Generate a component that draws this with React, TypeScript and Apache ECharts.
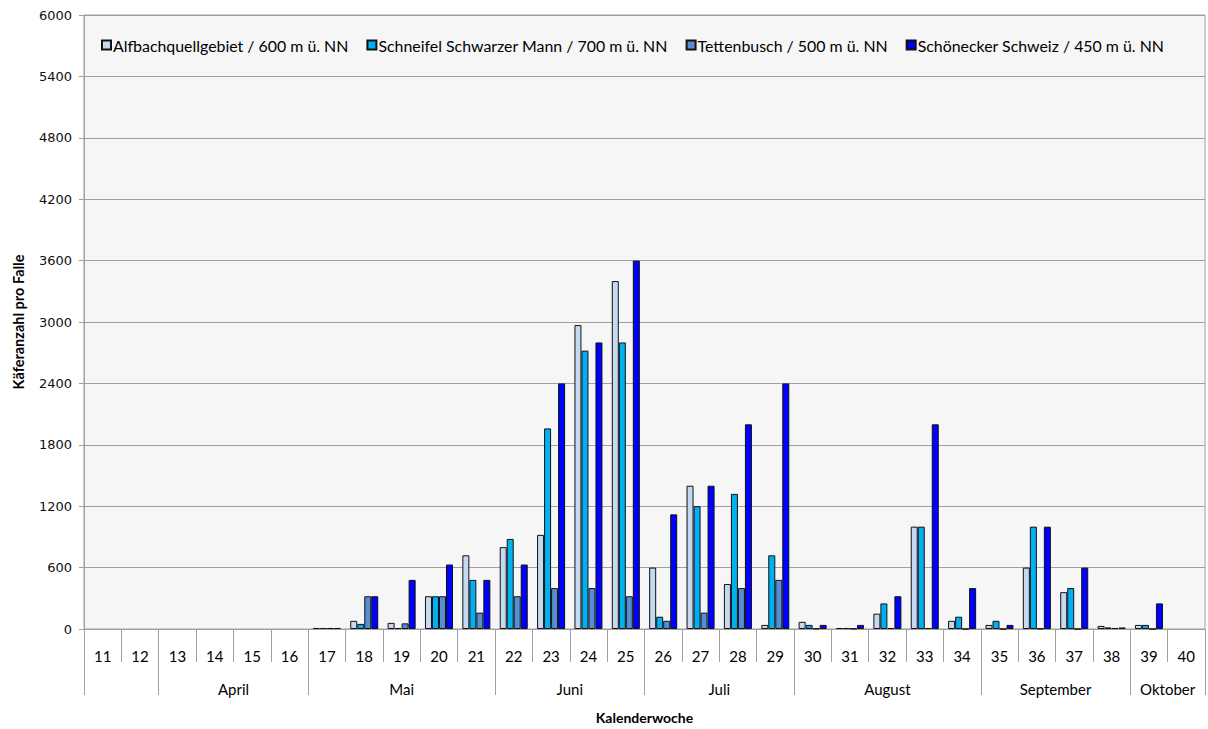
import React, { useEffect, useRef } from "react";
import * as echarts from "echarts";

const weeks = ["11","12","13","14","15","16","17","18","19","20","21","22","23","24","25","26","27","28","29","30","31","32","33","34","35","36","37","38","39","40"];

const alfbach = [null,null,null,null,null,null,10,80,60,320,720,800,920,2970,3400,600,1400,440,40,70,10,150,1000,80,40,600,360,30,40,null];
const schneifel = [null,null,null,null,null,null,10,50,10,320,480,880,1960,2720,2800,120,1200,1320,720,40,10,250,1000,120,80,1000,400,15,40,null];
const tettenbusch = [null,null,null,null,null,null,10,320,55,320,160,320,400,400,320,80,160,400,480,5,5,10,10,0,0,5,0,10,0,null];
const schoenecker = [null,null,null,null,null,null,10,320,480,630,480,630,2400,2800,3600,1120,1400,2000,2400,40,40,320,2000,400,40,1000,600,15,250,null];

const seriesNames = [
  "Alfbachquellgebiet / 600 m ü. NN",
  "Schneifel Schwarzer Mann / 700 m ü. NN",
  "Tettenbusch / 500 m ü. NN",
  "Schönecker Schweiz / 450 m ü. NN",
];
const seriesColors = ["#C6D9F1", "#00B0F0", "#558ED5", "#0000FF"];

const monthNames = ["April", "Mai", "Juni", "Juli", "August", "September", "Oktober"];
const monthCenters = [4, 8.5, 13, 17, 21.5, 26, 29];
const monthBounds = [0, 2, 6, 11, 15, 19, 24, 28, 30];

const yTicks = { min: 0, max: 6000, interval: 600 };

const FONT = "Lato, 'Open Sans', sans-serif";
const GRAY = "#A0A0A0";

export default function App() {
  const ref = useRef<HTMLDivElement>(null);
  useEffect(() => {
    if (!ref.current) return;
    const chart = echarts.init(ref.current, null, { renderer: "svg" });
    const datasets = [alfbach, schneifel, tettenbusch, schoenecker];
    chart.setOption({
      animation: false,
      backgroundColor: "#FFFFFF",
      textStyle: { fontFamily: FONT },
      grid: {
        left: 84,
        right: 3,
        top: 15,
        bottom: 92,
        show: true,
        backgroundColor: "#F6F6F6",
        borderColor: GRAY,
        borderWidth: 1,
      },
      legend: {
        left: 96,
        top: 32,
        itemWidth: 9,
        itemHeight: 9,
        itemGap: 18,
        icon: "rect",
        textStyle: { fontFamily: FONT, fontSize: 15.9, color: "#000", padding: [0, 0, 0, -3] },
        data: seriesNames,
      },
      xAxis: [
        {
          type: "category",
          data: weeks,
          position: "bottom",
          axisLine: { show: true, lineStyle: { color: GRAY, width: 1 } },
          axisTick: { show: true, interval: 0, length: 33, lineStyle: { color: GRAY, width: 1 } },
          axisLabel: { interval: 0, margin: 19, fontFamily: FONT, fontSize: 15, color: "#000" },
          splitLine: { show: false },
        },
        {
          type: "value",
          min: 0,
          max: 30,
          position: "bottom",
          offset: 33,
          axisLine: { show: false },
          axisTick: { show: true, length: 33, customValues: monthBounds, lineStyle: { color: GRAY, width: 1 } },
          axisLabel: {
            show: true,
            margin: 19,
            customValues: monthCenters,
            fontFamily: FONT,
            fontSize: 15,
            color: "#000",
            formatter: (v: number) => {
              const i = monthCenters.indexOf(v);
              return i >= 0 ? monthNames[i] : "";
            },
          },
          splitLine: { show: false },
          name: "Kalenderwoche",
          nameLocation: "middle",
          nameGap: 48,
          nameTextStyle: { fontFamily: FONT, fontSize: 14, fontWeight: "bold", color: "#000" },
        },
      ],
      yAxis: {
        type: "value",
        min: yTicks.min,
        max: yTicks.max,
        interval: yTicks.interval,
        axisLine: { show: true, lineStyle: { color: GRAY, width: 1 } },
        axisTick: { show: true, length: 5, lineStyle: { color: GRAY } },
        axisLabel: {
          margin: 12,
          fontFamily: "'DejaVu Sans', sans-serif",
          fontSize: 13,
          color: "#111",
          formatter: (v: number) => String(v),
        },
        splitLine: { show: true, lineStyle: { color: GRAY, width: 1 } },
        name: "Käferanzahl pro Falle",
        nameLocation: "middle",
        nameRotate: 90,
        nameGap: 58,
        nameTextStyle: { fontFamily: FONT, fontSize: 14.5, fontWeight: "bold", color: "#000" },
      },
      series: seriesNames.map((name, i) => ({
        name,
        type: "bar",
        xAxisIndex: 0,
        yAxisIndex: 0,
        data: datasets[i],
        barGap: "0%",
        barCategoryGap: "25%",
        itemStyle: { color: seriesColors[i], borderColor: "#111", borderWidth: 1 },
        emphasis: { disabled: true },
      })),
    });
    return () => chart.dispose();
  }, []);
  return (
    <div
      ref={ref}
      style={{ position: "fixed", left: 0, top: 0, width: 1208, height: 729 }}
    />
  );
}
